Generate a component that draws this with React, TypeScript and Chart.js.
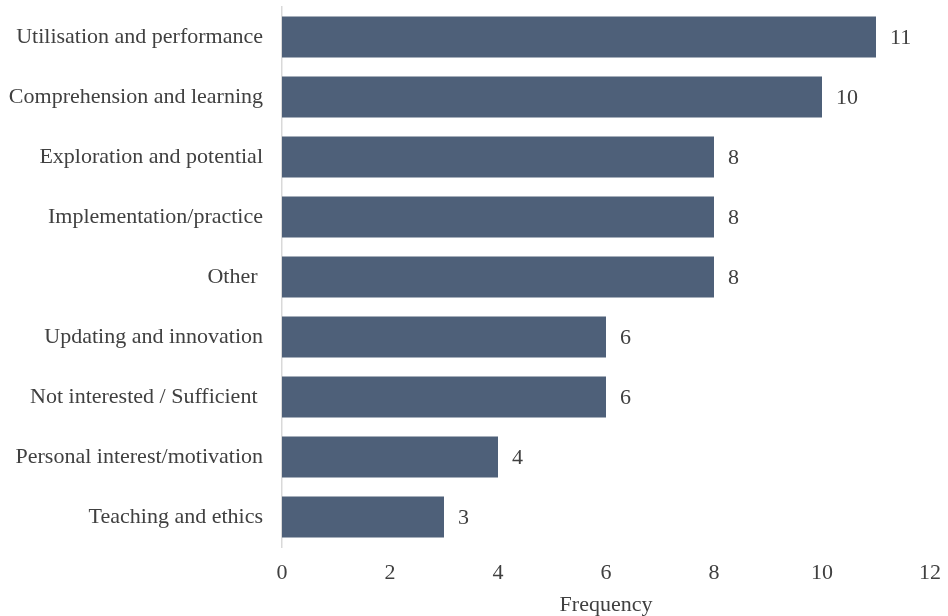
import React, { useEffect, useRef } from "react";
import { Chart, registerables } from "chart.js";

Chart.register(...registerables);

const categories = [
  "Utilisation and performance",
  "Comprehension and learning",
  "Exploration and potential",
  "Implementation/practice",
  "Other ",
  "Updating and innovation",
  "Not interested / Sufficient ",
  "Personal interest/motivation",
  "Teaching and ethics",
];
const frequencies = [11, 10, 8, 8, 8, 6, 6, 4, 3];
const xTicks = [0, 2, 4, 6, 8, 10, 12];
const axisTitle = "Frequency";

const FONT = "'Liberation Serif', 'Times New Roman', serif";
const TEXT = "#404040";
const BAR = "#4e6079";

const valueLabels = {
  id: "valueLabels",
  afterDatasetsDraw(chart: any) {
    const ctx = chart.ctx;
    const meta = chart.getDatasetMeta(0);
    ctx.save();
    ctx.font = `22px ${FONT}`;
    ctx.fillStyle = TEXT;
    ctx.textAlign = "left";
    ctx.textBaseline = "middle";
    meta.data.forEach((el: any, i: number) => {
      ctx.fillText(String(frequencies[i]), el.x + 14, el.y + 1);
    });
    ctx.restore();
  },
};

export default function App() {
  const ref = useRef<HTMLCanvasElement>(null);
  useEffect(() => {
    const chart = new Chart(ref.current!, {
      type: "bar",
      data: {
        labels: categories,
        datasets: [
          {
            data: frequencies,
            backgroundColor: BAR,
            borderWidth: 0,
            categoryPercentage: 1,
            barPercentage: 0.68,
          },
        ],
      },
      plugins: [valueLabels],
      options: {
        indexAxis: "y",
        animation: false,
        responsive: true,
        maintainAspectRatio: false,
        layout: { padding: { top: 7, right: 18, bottom: 0, left: 0 } },
        plugins: { legend: { display: false }, tooltip: { enabled: false } },
        scales: {
          x: {
            min: 0,
            max: 12,
            afterBuildTicks: (scale: any) => {
              scale.ticks = xTicks.map((v) => ({ value: v }));
            },
            grid: { display: false, drawTicks: false },
            border: { display: false },
            ticks: {
              padding: 13,
              color: TEXT,
              font: { family: FONT, size: 22 },
            },
            title: {
              display: true,
              text: axisTitle,
              color: TEXT,
              font: { family: FONT, size: 22, lineHeight: 1 },
              padding: { top: 0, bottom: 0 },
            },
            afterFit: (scale: any) => {
              scale.height = 69;
              scale.paddingLeft = 0;
              scale.paddingRight = 0;
            },
          },
          y: {
            grid: { display: false, drawTicks: false },
            border: { display: true, color: "#d9d9d9", width: 1.5 },
            ticks: {
              padding: 19,
              color: TEXT,
              font: { family: FONT, size: 22 },
            },
            afterFit: (scale: any) => {
              scale.width = 282;
              scale.paddingTop = 0;
              scale.paddingBottom = 0;
            },
          },
        },
      },
    } as any);
    return () => chart.destroy();
  }, []);
  return (
    <div style={{ position: "fixed", left: 0, top: 0, width: 948, height: 616, background: "#fff" }}>
      <canvas ref={ref} />
    </div>
  );
}
